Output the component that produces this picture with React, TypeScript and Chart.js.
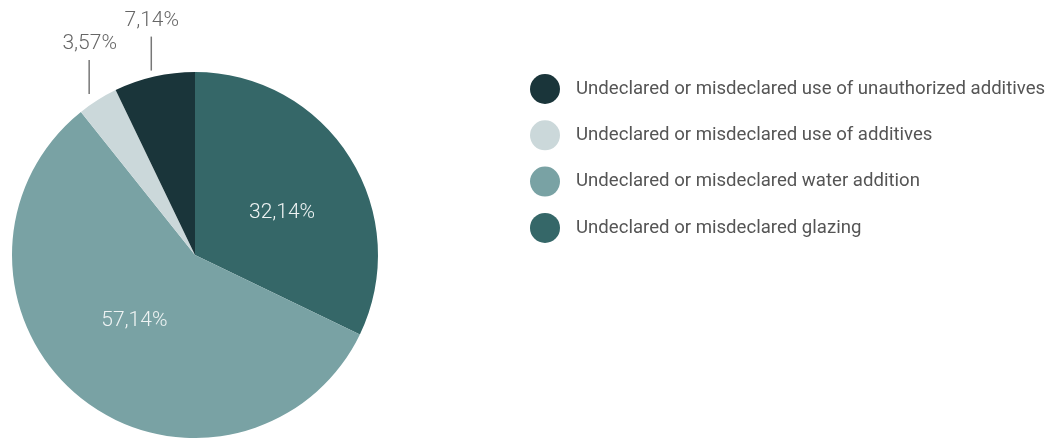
import React, { useEffect, useRef } from "react";
import { Chart, registerables } from "chart.js";

Chart.register(...registerables);

const categories = [
  "Undeclared or misdeclared glazing",
  "Undeclared or misdeclared water addition",
  "Undeclared or misdeclared use of additives",
  "Undeclared or misdeclared use of unauthorized additives",
];
const shares = [32.14, 57.14, 3.57, 7.14];
const valueLabels = ["32,14%", "57,14%", "3,57%", "7,14%"];
const sliceColors = ["#356768", "#79a2a4", "#cbd8da", "#1a353a"];
const insideLabel = [true, true, false, false];

// label placement tweaks (styling only)
const insideRadiusFactor = [0.53, 0.49, 0, 0];
const insideAngleShiftDeg = [6, 4, 0, 0];
const outsideDx = [0, 0, -8.5, -3];

const FONT = "Roboto, 'DejaVu Sans', sans-serif";

const labelPlugin = {
  id: "customLabels",
  afterDraw(chart: any) {
    const ctx = chart.ctx;
    const meta = chart.getDatasetMeta(0);
    ctx.save();
    ctx.textAlign = "center";
    ctx.textBaseline = "middle";
    meta.data.forEach((arc: any, i: number) => {
      const { x, y, startAngle, endAngle, outerRadius } = arc.getProps(
        ["x", "y", "startAngle", "endAngle", "outerRadius"],
        true
      );
      const mid = (startAngle + endAngle) / 2;
      if (insideLabel[i]) {
        const a = mid + (insideAngleShiftDeg[i] * Math.PI) / 180;
        const r = outerRadius * insideRadiusFactor[i];
        ctx.fillStyle = "#eef3f3";
        ctx.font = `300 21px ${FONT}`;
        ctx.fillText(valueLabels[i], x + Math.cos(a) * r, y + Math.sin(a) * r);
      } else {
        const px = x + Math.cos(mid) * outerRadius;
        const py = y + Math.sin(mid) * outerRadius;
        const lx = px + outsideDx[i];
        ctx.strokeStyle = "#777";
        ctx.lineWidth = 1.5;
        ctx.beginPath();
        ctx.moveTo(lx, py - 6);
        ctx.lineTo(lx, py - 40);
        ctx.stroke();
        ctx.fillStyle = "#666";
        ctx.font = `300 21px ${FONT}`;
        ctx.fillText(valueLabels[i], lx + 0.5, py - 56);
      }
    });
    // legend (reverse order)
    const lx = 545;
    const ly0 = 89;
    const step = 46.3;
    const order = [3, 2, 1, 0];
    ctx.textAlign = "left";
    order.forEach((idx, row) => {
      const cy = ly0 + row * step;
      ctx.fillStyle = sliceColors[idx];
      ctx.beginPath();
      ctx.arc(lx, cy, 15, 0, Math.PI * 2);
      ctx.fill();
      ctx.fillStyle = "#555";
      ctx.font = `400 18.6px ${FONT}`;
      ctx.fillText(categories[idx], 576, cy);
    });
    ctx.restore();
  },
};

export default function App() {
  const ref = useRef<HTMLCanvasElement>(null);
  useEffect(() => {
    if (!ref.current) return;
    const chart = new Chart(ref.current, {
      type: "pie",
      data: {
        labels: categories,
        datasets: [
          {
            data: shares,
            backgroundColor: sliceColors,
            borderWidth: 0,
          },
        ],
      },
      options: {
        responsive: false,
        animation: false,
        layout: { padding: { left: 12, top: 72, right: 675, bottom: 0 } },
        plugins: {
          legend: { display: false },
          tooltip: { enabled: false },
        },
      },
      plugins: [labelPlugin],
    });
    return () => chart.destroy();
  }, []);
  return (
    <canvas
      ref={ref}
      width={1053}
      height={438}
      style={{ position: "absolute", left: 0, top: 0, width: 1053, height: 438 }}
    />
  );
}
